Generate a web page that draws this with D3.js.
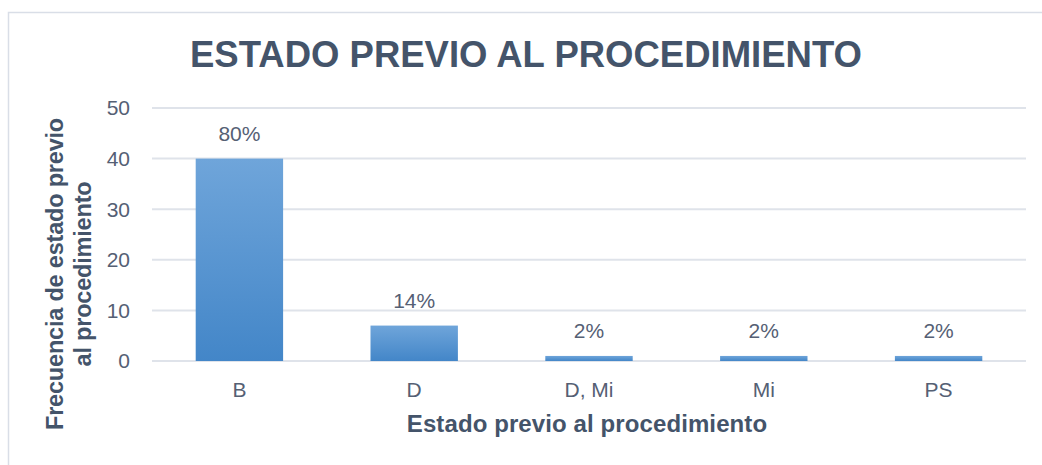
<!DOCTYPE html>
<html>
<head>
<meta charset="utf-8">
<script src="https://cdn.jsdelivr.net/npm/d3@7"></script>
<style>
  body { margin: 0; background: #fff; }
  svg { display: block; font-family: "Liberation Sans", Arial, sans-serif; }
</style>
</head>
<body>
<svg id="chart"></svg>
<script>
const categories = ["B", "D", "D, Mi", "Mi", "PS"];
const counts = [40, 7, 1, 1, 1];
const percentLabels = ["80%", "14%", "2%", "2%", "2%"];
const yTicks = [0, 10, 20, 30, 40, 50];

const width = 1042, height = 465;
const margin = {top: 108, right: 16, bottom: 104, left: 152};

const svg = d3.select("#chart")
  .attr("width", width)
  .attr("height", height);

// outer chart frame (runs off the right/bottom edges)
svg.append("rect")
  .attr("x", 8.5).attr("y", 12.5)
  .attr("width", 1060).attr("height", 480)
  .attr("fill", "none")
  .attr("stroke", "#d9dee7")
  .attr("stroke-width", 1.5);

const defs = svg.append("defs");
const grad = defs.append("linearGradient")
  .attr("id", "barGrad")
  .attr("x1", 0).attr("y1", 0).attr("x2", 0).attr("y2", 1);
grad.append("stop").attr("offset", "0%").attr("stop-color", "#6fa5da");
grad.append("stop").attr("offset", "100%").attr("stop-color", "#4386c8");

const x = d3.scaleBand()
  .domain(categories)
  .range([margin.left, width - margin.right])
  .paddingInner(0.5)
  .paddingOuter(0.25);

const y = d3.scaleLinear()
  .domain([0, 50])
  .range([height - margin.bottom, margin.top]);

// gridlines
svg.append("g")
  .selectAll("line")
  .data(yTicks)
  .join("line")
  .attr("x1", margin.left)
  .attr("x2", width - margin.right)
  .attr("y1", d => y(d))
  .attr("y2", d => y(d))
  .attr("stroke", "#dfe3ea")
  .attr("stroke-width", 2);

// y tick labels
svg.append("g")
  .selectAll("text")
  .data(yTicks)
  .join("text")
  .attr("x", 130)
  .attr("y", d => y(d))
  .attr("dy", "0.35em")
  .attr("text-anchor", "end")
  .attr("font-size", 21)
  .attr("fill", "#556074")
  .text(d => d);

// bars
const data = categories.map((c, i) => ({cat: c, value: counts[i], label: percentLabels[i]}));

svg.append("g")
  .selectAll("rect")
  .data(data)
  .join("rect")
  .attr("x", d => x(d.cat))
  .attr("width", x.bandwidth())
  .attr("y", d => y(d.value))
  .attr("height", d => y(0) - y(d.value))
  .attr("fill", "url(#barGrad)");

// value labels
svg.append("g")
  .selectAll("text")
  .data(data)
  .join("text")
  .attr("x", d => x(d.cat) + x.bandwidth() / 2)
  .attr("y", d => y(d.value) - 18)
  .attr("text-anchor", "middle")
  .attr("font-size", 21)
  .attr("fill", "#556074")
  .text(d => d.label);

// x tick labels
svg.append("g")
  .selectAll("text")
  .data(categories)
  .join("text")
  .attr("x", d => x(d) + x.bandwidth() / 2)
  .attr("y", y(0) + 36)
  .attr("text-anchor", "middle")
  .attr("font-size", 21)
  .attr("fill", "#556074")
  .text(d => d);

// title
svg.append("text")
  .attr("x", 526)
  .attr("y", 67)
  .attr("text-anchor", "middle")
  .attr("font-size", 36.5)
  .attr("font-weight", "bold")
  .attr("fill", "#44546a")
  .text("ESTADO PREVIO AL PROCEDIMIENTO");

// x axis title
svg.append("text")
  .attr("x", 587)
  .attr("y", 432)
  .attr("text-anchor", "middle")
  .attr("font-size", 24)
  .attr("font-weight", "bold")
  .attr("letter-spacing", 0.1)
  .attr("fill", "#44546a")
  .text("Estado previo al procedimiento");

// y axis title (two lines)
const yTitle = svg.append("text")
  .attr("transform", "translate(63,274) rotate(-90)")
  .attr("text-anchor", "middle")
  .attr("font-size", 23.5)
  .attr("font-weight", "bold")
  .attr("letter-spacing", -0.2)
  .attr("fill", "#44546a");
yTitle.append("tspan").attr("x", 0).attr("dy", 0).text("Frecuencia de estado previo");
yTitle.append("tspan").attr("x", 0).attr("dy", 28).text("al procedimiento");
</script>
</body>
</html>
